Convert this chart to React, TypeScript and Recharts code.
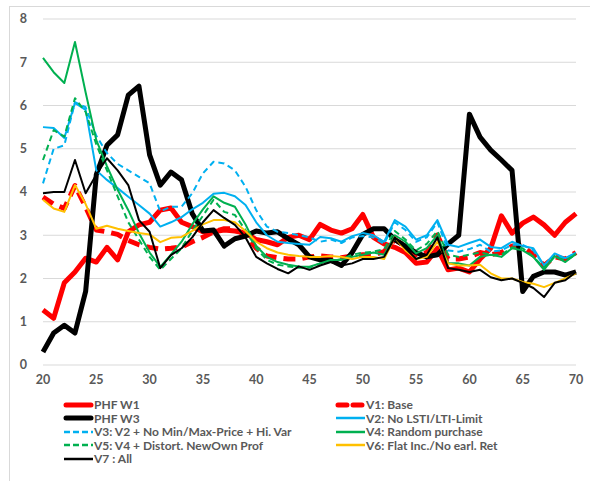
import React from 'react';
import { LineChart, Line, XAxis, YAxis, CartesianGrid } from 'recharts';

const AGES = [
  20, 21, 22, 23, 24, 25, 26, 27, 28, 29, 30, 31, 32, 33, 34, 35, 36, 37, 38, 39,
  40, 41, 42, 43, 44, 45, 46, 47, 48, 49, 50, 51, 52, 53, 54, 55, 56, 57, 58, 59,
  60, 61, 62, 63, 64, 65, 66, 67, 68, 69, 70,
];

const PHF_W1 = [
  1.27, 1.08, 1.9, 2.15, 2.47, 2.38, 2.72, 2.43, 3.08, 3.24, 3.3, 3.58, 3.63, 3.3, 3.2, 3.08, 3.08, 3.12, 3.1, 3.05,
  2.9, 2.85, 2.78, 2.95, 3.0, 2.9, 3.25, 3.12, 3.05, 3.15, 3.48, 2.95, 2.8, 2.72, 2.6, 2.35, 2.38, 2.7, 2.2, 2.24,
  2.15, 2.45, 2.7, 3.45, 3.05, 3.28, 3.42, 3.24, 3.0, 3.3, 3.5,
];
const V1_BASE = [
  3.88, 3.72, 3.62, 4.15, 3.65, 3.12, 3.08, 3.02, 2.88, 2.78, 2.72, 2.68, 2.7, 2.73, 2.85, 2.95, 3.08, 3.15, 3.15, 3.0,
  2.7, 2.52, 2.48, 2.45, 2.45, 2.5, 2.52, 2.5, 2.48, 2.52, 2.55, 2.55, 2.62, 2.9, 2.75, 2.55, 2.6, 3.0, 2.45, 2.45,
  2.5, 2.6, 2.55, 2.6, 2.75, 2.75, 2.55, 2.3, 2.5, 2.45, 2.6,
];
const PHF_W3 = [
  0.3, 0.74, 0.92, 0.74, 1.7, 4.4, 5.08, 5.32, 6.24, 6.45, 4.86, 4.16, 4.46, 4.28, 3.5, 3.1, 3.12, 2.75, 2.92, 2.98,
  3.1, 3.05, 3.08, 2.92, 2.78, 2.5, 2.43, 2.42, 2.3, 2.6, 3.02, 3.15, 3.15, 2.9, 2.75, 2.6, 2.5, 2.55, 2.8, 3.0,
  5.8, 5.27, 4.97, 4.74, 4.5, 1.7, 2.05, 2.15, 2.15, 2.08, 2.15,
];
const V2 = [
  5.5, 5.48, 5.25, 6.06, 5.9, 4.5, 4.28, 4.09, 3.89, 3.7, 3.5, 3.2, 3.3, 3.42, 3.6, 3.75, 3.96, 3.98, 3.9, 3.7,
  3.3, 3.0, 2.85, 2.82, 2.8, 2.78, 2.96, 2.93, 2.85, 2.98, 3.05, 3.0, 2.85, 3.35, 3.2, 2.9, 3.0, 3.35, 2.78, 2.73,
  2.82, 2.9, 2.73, 2.7, 2.85, 2.75, 2.7, 2.3, 2.58, 2.47, 2.6,
];
const V3 = [
  4.2, 5.0, 5.08, 6.08, 5.96, 5.3, 4.9, 4.65, 4.5, 4.35, 4.2, 3.55, 3.66, 3.66, 3.97, 4.43, 4.7, 4.66, 4.5, 4.12,
  3.58, 3.2, 3.08, 3.05, 3.0, 2.95, 2.85, 2.9, 2.82, 2.95, 2.98, 2.95, 2.8, 3.3, 3.12, 2.85, 2.95, 3.3, 2.65, 2.62,
  2.68, 2.78, 2.62, 2.65, 2.78, 2.78, 2.65, 2.3, 2.55, 2.45, 2.6,
];
const V4 = [
  7.1, 6.77, 6.52, 7.47, 6.3, 5.2, 4.6, 4.05, 3.58, 3.05, 2.6, 2.27, 2.55, 2.85, 3.25, 3.6, 3.9, 3.75, 3.66, 3.25,
  2.75, 2.5, 2.38, 2.32, 2.28, 2.27, 2.35, 2.43, 2.43, 2.5, 2.55, 2.6, 2.55, 3.0, 2.85, 2.58, 2.7, 3.0, 2.35, 2.35,
  2.3, 2.5, 2.55, 2.5, 2.7, 2.65, 2.5, 2.2, 2.52, 2.38, 2.57,
];
const V5 = [
  4.74, 5.43, 5.28, 6.17, 5.85, 5.1, 4.5, 3.9, 3.3, 2.9, 2.5, 2.2, 2.45, 2.7, 3.1, 3.45, 3.82, 3.54, 3.47, 3.12,
  2.7, 2.43, 2.32, 2.28, 2.25, 2.25, 2.35, 2.4, 2.45, 2.55, 2.6, 2.62, 2.68, 3.1, 2.9, 2.65, 2.8, 3.1, 2.55, 2.5,
  2.55, 2.6, 2.55, 2.55, 2.72, 2.7, 2.5, 2.25, 2.5, 2.42, 2.55,
];
const V6 = [
  3.82, 3.62, 3.54, 4.16, 3.72, 3.15, 3.22, 3.15, 3.1, 3.05, 3.02, 2.84, 2.94, 2.96, 3.1, 3.25, 3.35, 3.35, 3.3, 3.1,
  2.85, 2.7, 2.6, 2.55, 2.52, 2.5, 2.5, 2.52, 2.5, 2.45, 2.5, 2.5, 2.45, 2.95, 2.65, 2.45, 2.5, 2.85, 2.35, 2.3,
  2.3, 2.32, 2.12, 2.0, 2.0, 1.92, 1.88, 1.8, 1.9, 2.0, 2.12,
];
const V7 = [
  3.97, 4.0, 4.0, 4.74, 3.97, 4.4, 4.78, 4.5, 4.16, 3.35, 3.08, 2.24, 2.54, 2.7, 2.95, 3.3, 3.58, 3.4, 3.24, 2.95,
  2.5, 2.35, 2.22, 2.12, 2.28, 2.2, 2.3, 2.38, 2.3, 2.35, 2.45, 2.45, 2.5, 2.95, 2.7, 2.45, 2.55, 2.95, 2.24, 2.2,
  2.15, 2.2, 2.03, 1.96, 2.0, 1.9, 1.78, 1.57, 1.9, 1.96, 2.15,
];

const X_TICKS = [20, 25, 30, 35, 40, 45, 50, 55, 60, 65, 70];
const Y_TICKS = [0, 1, 2, 3, 4, 5, 6, 7, 8];

const SERIES = [
  { key: 'w1', name: 'PHF W1', values: PHF_W1, color: '#ff0000', width: 5, dash: undefined },
  { key: 'v1', name: 'V1: Base', values: V1_BASE, color: '#ff0000', width: 5, dash: '12 7' },
  { key: 'w3', name: 'PHF W3', values: PHF_W3, color: '#000000', width: 5, dash: undefined },
  { key: 'v2', name: 'V2: No LSTI/LTI-Limit', values: V2, color: '#00b0f0', width: 2, dash: undefined },
  { key: 'v3', name: 'V3: V2 + No Min/Max-Price + Hi. Var', values: V3, color: '#00b0f0', width: 2, dash: '6 4' },
  { key: 'v4', name: 'V4: Random purchase', values: V4, color: '#00b050', width: 2, dash: undefined },
  { key: 'v5', name: 'V5: V4 + Distort. NewOwn Prof', values: V5, color: '#00b050', width: 2, dash: '6 4' },
  { key: 'v6', name: 'V6: Flat Inc./No earl. Ret', values: V6, color: '#ffc000', width: 2, dash: undefined },
  { key: 'v7', name: 'V7 : All', values: V7, color: '#000000', width: 2, dash: undefined },
];

const data = AGES.map((age, i) => {
  const row: Record<string, number> = { age };
  SERIES.forEach(s => { row[s.key] = s.values[i]; });
  return row;
});

const FONT = 'Lato, "Open Sans", sans-serif';
const tickStyle = { fill: '#595959', fontSize: 12.5, fontWeight: 700, fontFamily: FONT };

const LegendBlock = () => (
  <div
    style={{
      position: 'absolute', left: 63, top: 398,
      display: 'grid', gridTemplateColumns: '272px 260px', gridAutoRows: '13.5px',
      fontFamily: FONT, fontSize: 12, fontWeight: 700, color: '#595959',
    }}
  >
    {SERIES.map(s => (
      <div key={s.key} style={{ display: 'flex', alignItems: 'center', whiteSpace: 'nowrap' }}>
        <svg width={31} height={10} style={{ flex: 'none' }}>
          <line
            x1={s.width > 2 ? 3 : 1} y1={5} x2={s.width > 2 ? 28 : 30} y2={5}
            stroke={s.color} strokeWidth={s.width > 2 ? 5 : 2.5}
            strokeDasharray={s.dash ? (s.width > 2 ? '9 6' : '6 3') : undefined}
            strokeLinecap={s.width > 2 ? 'round' : 'butt'}
          />
        </svg>
        <span>{s.name}</span>
      </div>
    ))}
  </div>
);

export default function App() {
  return (
    <div style={{ position: 'absolute', left: 0, top: 0, width: 590, height: 481, background: '#fff', overflow: 'hidden' }}>
      <div style={{ position: 'absolute', left: 9, top: 6, width: 640, height: 520, border: '1px solid #d9d9d9' }} />
      <div style={{ position: 'absolute', left: 0, top: 0 }}>
        <LineChart width={590} height={395} data={data} margin={{ top: 19, right: 14, left: 0, bottom: 5 }}>
          <CartesianGrid vertical={false} stroke="#d9d9d9" strokeWidth={1} />
          <XAxis
            dataKey="age" type="number" domain={[20, 70]} ticks={X_TICKS}
            axisLine={false} tickLine={false} tick={tickStyle} height={25} tickMargin={4}
          />
          <YAxis
            domain={[0, 8]} ticks={Y_TICKS} axisLine={false} tickLine={false}
            tick={tickStyle} width={43} tickMargin={10}
          />
          {SERIES.map(s => (
            <Line
              key={s.key} dataKey={s.key} name={s.name} type="linear"
              stroke={s.color} strokeWidth={s.width} strokeDasharray={s.dash}
              strokeLinejoin="round" dot={false} activeDot={false} isAnimationActive={false}
            />
          ))}
        </LineChart>
      </div>
      <LegendBlock />
    </div>
  );
}
